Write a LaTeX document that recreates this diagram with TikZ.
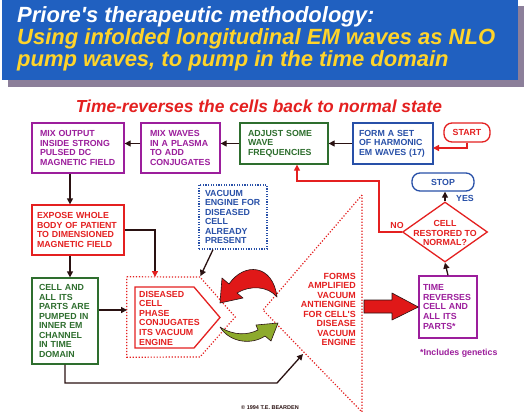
\documentclass[tikz,border=0pt]{standalone}
\usepackage{fontspec}
\setmainfont{Liberation Sans}
\usetikzlibrary{arrows.meta,shapes.geometric,calc}
\definecolor{bannerblue}{HTML}{2060C0}
\definecolor{bshadow}{HTML}{8C7F9A}
\definecolor{ttlyellow}{HTML}{FFD42A}
\definecolor{myred}{HTML}{E42020}
\definecolor{mypurple}{HTML}{9C1E9C}
\definecolor{mygreen}{HTML}{2E6E2E}
\definecolor{myblue}{HTML}{2850A8}
\definecolor{darkc}{HTML}{2A1212}
\definecolor{redfill}{HTML}{E01818}
\definecolor{greenfill}{HTML}{8DAA2C}
\begin{document}
\begin{tikzpicture}[x=1pt,y=-1pt,
  every node/.style={font=\bfseries\fontsize{8.8}{9.4}\selectfont},
  box/.style={rectangle, draw, line width=1.3pt, align=left, inner ysep=0pt},
  arr/.style={draw=darkc, line width=1.3pt, -{Triangle[length=6pt,width=6pt]}},
  rarr/.style={draw=myred, line width=1.3pt, -{Triangle[length=6pt,width=6pt]}},
  reddot/.style={draw=myred, line width=1.2pt, dash pattern=on 1.2pt off 1.8pt},
  bluedot/.style={draw=myblue, line width=1.2pt, dash pattern=on 1.2pt off 1.4pt},
  curved/.style={draw=darkc, line width=0.6pt, line join=round},
  ttl/.style={font=\bfseries\itshape\fontsize{22}{22}\selectfont, anchor=base west, inner sep=0pt},
]
\fill[white] (0,0) rectangle (525,416);
\useasboundingbox (0,0) rectangle (525,416);

% banner
\fill[bshadow] (8,6) rectangle (524,87);
\fill[bannerblue] (2,0) rectangle (518,80);
\node[ttl, text=white] (ttl1) at (17,22) {Priore\textquotesingle s therapeutic methodology:};
\node[ttl, text=ttlyellow] (ttl2) at (17,44) {Using infolded longitudinal EM waves as NLO};
\node[ttl, text=ttlyellow] (ttl3) at (17,66) {pump waves, to pump in the time domain};

\node[font=\bfseries\itshape\fontsize{17.4}{18}\selectfont, text=myred, anchor=base, inner sep=0pt] (sub) at (259,112) {Time-reverses the cells back to normal state};

% boxes
\node[box, draw=mypurple, text=mypurple, minimum width=92pt, minimum height=50pt, text width=76pt, inner xsep=8pt] (b1) at (78,148) {MIX OUTPUT\\INSIDE STRONG\\PULSED DC\\MAGNETIC FIELD};
\node[box, draw=mypurple, text=mypurple, minimum width=79pt, minimum height=50pt, text width=61pt, inner xsep=9pt] (b2) at (180.5,148) {MIX WAVES\\IN A PLASMA\\TO ADD\\CONJUGATES};
\node[box, draw=mygreen, text=mygreen, minimum width=88pt, minimum height=41pt, text width=72pt, inner xsep=8pt] (b3) at (284,143.5) {ADJUST SOME\\WAVE\\FREQUENCIES};
\node[box, draw=myblue, text=myblue, minimum width=80pt, minimum height=41pt, text width=68pt, inner xsep=6pt] (b4) at (393,143.5) {FORM A SET\\OF HARMONIC\\EM WAVES (17)};
\node[draw=myred, text=myred, rounded corners=8pt, line width=1.3pt, minimum width=46pt, minimum height=19pt, inner sep=0pt] (start) at (467,132.5) {START};
\node[draw=myblue, text=myblue, rounded corners=8pt, line width=1.3pt, minimum width=62pt, minimum height=18pt, inner sep=0pt] (stop) at (443,182) {STOP};
\node[diamond, draw=myred, line width=1.3pt, minimum width=85pt, minimum height=60pt, inner sep=0pt] (dia) at (445,232) {};
\node[text=myred, align=center, font=\bfseries\fontsize{8.8}{9.5}\selectfont] (diat) at (445,233) {CELL\\RESTORED TO\\NORMAL?};
\node[box, draw=mypurple, text=mypurple, minimum width=58pt, minimum height=62pt, text width=50pt, inner xsep=4pt, font=\bfseries\fontsize{8.8}{9.6}\selectfont] (time) at (448,307) {TIME\\REVERSES\\CELL AND\\ALL ITS\\PARTS*};
\node[text=mypurple, anchor=base west, inner sep=0pt] (incl) at (420,355) {*Includes genetics};
\node[box, draw=myred, text=myred, minimum width=92pt, minimum height=50pt, text width=82pt, inner xsep=5pt] (b5) at (78,230) {EXPOSE WHOLE\\BODY OF PATIENT\\TO DIMENSIONED\\MAGNETIC FIELD};
\node[box, draw=mygreen, text=mygreen, minimum width=66pt, minimum height=86pt, text width=52pt, inner xsep=7pt, font=\bfseries\fontsize{8.8}{9.5}\selectfont] (b6) at (65,321) {CELL AND\\ALL ITS\\PARTS ARE\\PUMPED IN\\INNER EM\\CHANNEL\\IN TIME\\DOMAIN};
\node[box, bluedot, text=myblue, minimum width=68pt, minimum height=64pt, text width=56pt, inner xsep=6pt, font=\bfseries\fontsize{8.8}{9.5}\selectfont] (vac) at (233,217) {VACUUM\\ENGINE FOR\\DISEASED\\CELL\\ALREADY\\PRESENT};

% diseased cell region
\node[minimum width=108pt, minimum height=80pt, inner sep=0pt] (dz) at (181,317) {};
\coordinate (dzc) at (200,277);
\coordinate (dzd) at (200,357);
\coordinate (dztop) at (155,277);
\coordinate (dzl) at (127,310);
\draw[reddot] (dz.north west) -- (dzc) -- (dz.east) -- (dzd) -- (dz.south west) -- cycle;
\draw[draw=myred, line width=1.3pt] (135,287) -- (194,287) -- (220,317.5) -- (194,348) -- (135,348) -- cycle;
\node[text=myred, align=left, anchor=west, inner sep=0pt, font=\bfseries\fontsize{8.8}{9.6}\selectfont] (dtext) at (139,318) {DISEASED\\CELL\\PHASE\\CONJUGATES\\ITS VACUUM\\ENGINE};

% antiengine triangle
\coordinate (tA) at (362,195);
\coordinate (tB) at (263,310);
\coordinate (tC) at (362,412);
\draw[reddot] (tA) -- (tB) -- (tC) -- cycle;
\node[text=myred, align=right, anchor=east, inner sep=0pt, font=\bfseries\fontsize{8.9}{9.5}\selectfont] (forms) at (356,309.5) {FORMS\\AMPLIFIED\\VACUUM\\ANTIENGINE\\FOR CELL\textquotesingle S\\DISEASE\\VACUUM\\ENGINE};

% big red arrow
\fill[redfill, draw=darkc, line width=0.6pt, line join=round] (364,300) -- (392,300) -- (392,293) -- (time.west) -- (392,320) -- (392,313) -- (364,313) -- cycle;

% curved arrows
\fill[redfill, curved] (222,278) -- (229,284) .. controls (244,262) and (273,264) .. (277,297) .. controls (268,286) and (250,285) .. (237,293) -- (243,298) -- (220,303) -- cycle;
\fill[greenfill, curved] (220,327) .. controls (234,336) and (248,335) .. (258,330) -- (256,325) -- (278,323) -- (271,341) -- (265,336) .. controls (252,345) and (230,343) .. (220,327) -- cycle;

% connectors
\draw[arr] (b4.west) -- (b3.east);
\draw[arr] (b3.west) -- (b3.west -| b2.east);
\draw[arr] (b3.west -| b2.west) -- (b3.west -| b1.east);
\draw[arr] ([xshift=-8pt]b1.south) -- ([xshift=-8pt]b1.south |- b5.north);
\draw[arr] ([xshift=-8pt]b5.south) -- ([xshift=-8pt]b5.south |- b6.north);
\draw[draw=darkc, line width=1.3pt, -{Triangle[length=6pt,width=6pt,color=myred]}] (b5.east) -| (dztop);
\draw[arr] (b6.east |- dzl) -- (dzl);
\coordinate (c1) at (277,383);
\coordinate (tri) at (303,354);
\draw[arr] (b6.south) |- (c1) -- (tri);
\draw[arr, shorten >=1pt] ([xshift=-20pt]vac.south) -- (dzc);
\draw[arr] (dia.north) -- (dia.north |- stop.south);
\node[text=myblue, inner sep=0pt] (yes) at (465,198) {YES};
\draw[arr] (time.north) -- (dia.south);
\coordinate (n1) at (379,181);
\coordinate (n2) at (297,181);
\draw[rarr] (dia.west) -| (n1) -- (n2) -- (n2 |- b3.south);
\node[text=myred, inner sep=0pt] (no) at (397,225) {NO};
\coordinate (s1) at (433,148);
\draw[rarr] (start.south) |- (s1);

\node[font=\bfseries\fontsize{5.5}{5.5}\selectfont, text=darkc, inner sep=0pt] (copy) at (270,408) {\textcopyright\ 1994 T.E. BEARDEN};
\end{tikzpicture}
\end{document}
